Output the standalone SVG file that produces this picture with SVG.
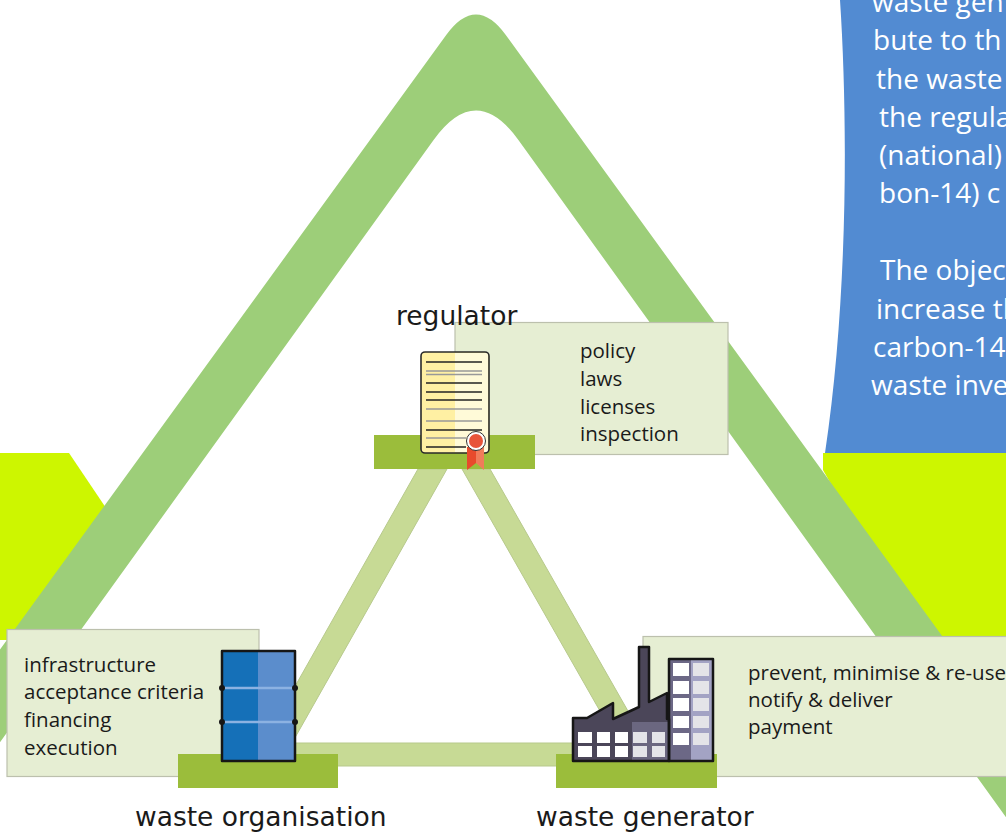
<svg xmlns="http://www.w3.org/2000/svg" width="1006" height="832" viewBox="0 0 1006 832">
<style>
.box{fill:#e6eed3;stroke:#bcc0ad;stroke-width:1.2}
.base{fill:#9bbd3b}
.lbl{font-family:"DejaVu Sans",sans-serif;font-size:26.5px;fill:#1a1a1a}
.item{font-family:"Open Sans","Noto Sans",sans-serif;font-size:20.5px;fill:#1a1a1a}
.bt{font-family:"Open Sans","Noto Sans",sans-serif;font-size:28px;fill:#ffffff}
.conn{fill:#c7da95;stroke:#b7c98c;stroke-width:1}
.ol{stroke:#161616;stroke-width:2.5;stroke-linejoin:round}
.win{fill:#ffffff}
.win2{fill:#e4e4e8}
</style>
<rect width="1006" height="832" fill="#ffffff"/>
<g id="background">
<polygon points="0,453 69,453 106,508 60,640 0,640" fill="#cdf600"/>
<polygon points="823,453 1006,453 1006,640 920,640 823,470" fill="#cdf600"/>
<path d="M-80.2,760 L446.2,35 Q476,-6 505.8,35 L1104.8,860 L1036.8,860 L518.4,140 Q476,81 433.6,140 L-12.8,760 Z" fill="#9dce79"/>
<path d="M840,0 C848,120 848,300 825,453 L1006,453 L1006,0 Z" fill="#528bd2"/>
<g class="bt">
<text x="872" y="12">waste gen</text>
<text x="873" y="50">bute to th</text>
<text x="876" y="88.5">the waste</text>
<text x="879" y="127">the regula</text>
<text x="879" y="165">(national)</text>
<text x="879" y="203">bon-14) c</text>
<text x="880" y="280">The objec</text>
<text x="876" y="318.5">increase th</text>
<text x="873" y="357">carbon-14</text>
<text x="871" y="395">waste inve</text>
</g>
</g>
<g id="connectors">
<polygon class="conn" points="418,469 447,469 288,750 259,750"/>
<polygon class="conn" points="462,469 490,469 644.5,740 616.5,740"/>
<rect class="conn" x="270" y="743" width="330" height="23"/>
</g>
<g id="regulator">
<rect class="box" x="455" y="322.5" width="273" height="132"/>
<rect class="base" x="374" y="435" width="161" height="34"/>
<rect x="421" y="352" width="68" height="101" rx="4" fill="#fff0a3"/>
<rect x="455" y="353" width="33" height="99" fill="#fffad8"/>
<rect x="421" y="352" width="68" height="101" rx="4" fill="none" stroke="#2a2a2a" stroke-width="1.6"/>
<g stroke-width="1.4">
<line x1="426" y1="362" x2="482" y2="362" stroke="#222"/>
<line x1="426" y1="371" x2="482" y2="371" stroke="#999"/>
<line x1="426" y1="374.5" x2="482" y2="374.5" stroke="#999"/>
<line x1="426" y1="383" x2="482" y2="383" stroke="#222"/>
<line x1="426" y1="392" x2="482" y2="392" stroke="#222"/>
<line x1="426" y1="400" x2="482" y2="400" stroke="#222"/>
<line x1="426" y1="409" x2="482" y2="409" stroke="#999"/>
<line x1="426" y1="421" x2="482" y2="421" stroke="#999"/>
<line x1="426" y1="430" x2="482" y2="430" stroke="#222"/>
<line x1="426" y1="438" x2="466" y2="438" stroke="#999"/>
<line x1="426" y1="447" x2="466" y2="447" stroke="#222"/>
</g>
<polygon points="467,447 476,447 476,463 467,470" fill="#e84a2c"/>
<polygon points="476,447 484,447 484,470 476,463" fill="#f07c5a"/>
<circle cx="476" cy="441" r="9.5" fill="#ffffff" stroke="#333" stroke-width="1"/>
<circle cx="476" cy="441" r="7" fill="#e8543a"/>
<text class="lbl" x="396" y="325">regulator</text>
<text class="item" x="580" y="358">policy</text>
<text class="item" x="580" y="386">laws</text>
<text class="item" x="580" y="413.5">licenses</text>
<text class="item" x="580" y="441">inspection</text>
</g>
<g id="waste-organisation">
<rect class="box" x="7" y="629.5" width="252" height="147"/>
<rect class="base" x="178" y="754" width="160" height="34"/>
<rect x="222" y="651" width="36" height="110" fill="#1570b8"/>
<rect x="258" y="651" width="37" height="110" fill="#5b8dcc"/>
<line x1="223" y1="688" x2="294" y2="688" stroke="#8cb2e2" stroke-width="2.5"/>
<line x1="223" y1="722" x2="294" y2="722" stroke="#8cb2e2" stroke-width="2.5"/>
<g fill="#161616">
<circle cx="222" cy="688" r="3"/><circle cx="295" cy="688" r="3"/>
<circle cx="222" cy="722" r="3"/><circle cx="295" cy="722" r="3"/>
</g>
<rect class="ol" x="222" y="651" width="73" height="110" fill="none"/>
<text class="item" x="24" y="671.5">infrastructure</text>
<text class="item" x="24" y="699">acceptance criteria</text>
<text class="item" x="24" y="727">financing</text>
<text class="item" x="24" y="755">execution</text>
<text class="lbl" x="135" y="826">waste organisation</text>
</g>
<g id="waste-generator">
<rect class="box" x="643" y="636.5" width="370" height="140"/>
<rect class="base" x="556" y="754" width="161" height="34"/>
<path d="M573,761 L573,718 L587,718 L613,703 L613,719 L639,707 L639,647 L649,647 L649,702 L667,693 L667,719 L669,719 L669,761 Z" fill="#4b4659"/>
<rect x="632" y="722" width="37" height="39" fill="#6b6780"/>
<rect x="669" y="659" width="22" height="102" fill="#6c6886"/>
<rect x="691" y="659" width="22" height="102" fill="#a3a3c4"/>
<path class="ol" d="M573,761 L573,718 L587,718 L613,703 L613,719 L639,707 L639,647 L649,647 L649,702 L667,693 L667,719 L669,719 L669,761 Z" fill="none"/>
<rect class="ol" x="669" y="659" width="44" height="102" fill="none"/>
<g class="win">
<rect x="578" y="732" width="14" height="11"/><rect x="597" y="732" width="13" height="11"/><rect x="615" y="732" width="13" height="11"/>
<rect x="578" y="746" width="14" height="11"/><rect x="597" y="746" width="13" height="11"/><rect x="615" y="746" width="13" height="11"/>
<rect x="673" y="663" width="16" height="13"/><rect x="673" y="681" width="16" height="13"/><rect x="673" y="698" width="16" height="13"/><rect x="673" y="716" width="16" height="12"/><rect x="673" y="733" width="16" height="12"/>
</g>
<g class="win2">
<rect x="633" y="732" width="14" height="11"/><rect x="652" y="732" width="13" height="11"/>
<rect x="633" y="746" width="14" height="11"/><rect x="652" y="746" width="13" height="11"/>
<rect x="693" y="663" width="16" height="13"/><rect x="693" y="681" width="16" height="13"/><rect x="693" y="698" width="16" height="13"/><rect x="693" y="716" width="16" height="12"/><rect x="693" y="733" width="16" height="12"/>
</g>
<text class="item" x="748" y="680">prevent, minimise &amp; re-use</text>
<text class="item" x="748" y="707">notify &amp; deliver</text>
<text class="item" x="748" y="734">payment</text>
<text class="lbl" x="536" y="826">waste generator</text>
</g>
</svg>
